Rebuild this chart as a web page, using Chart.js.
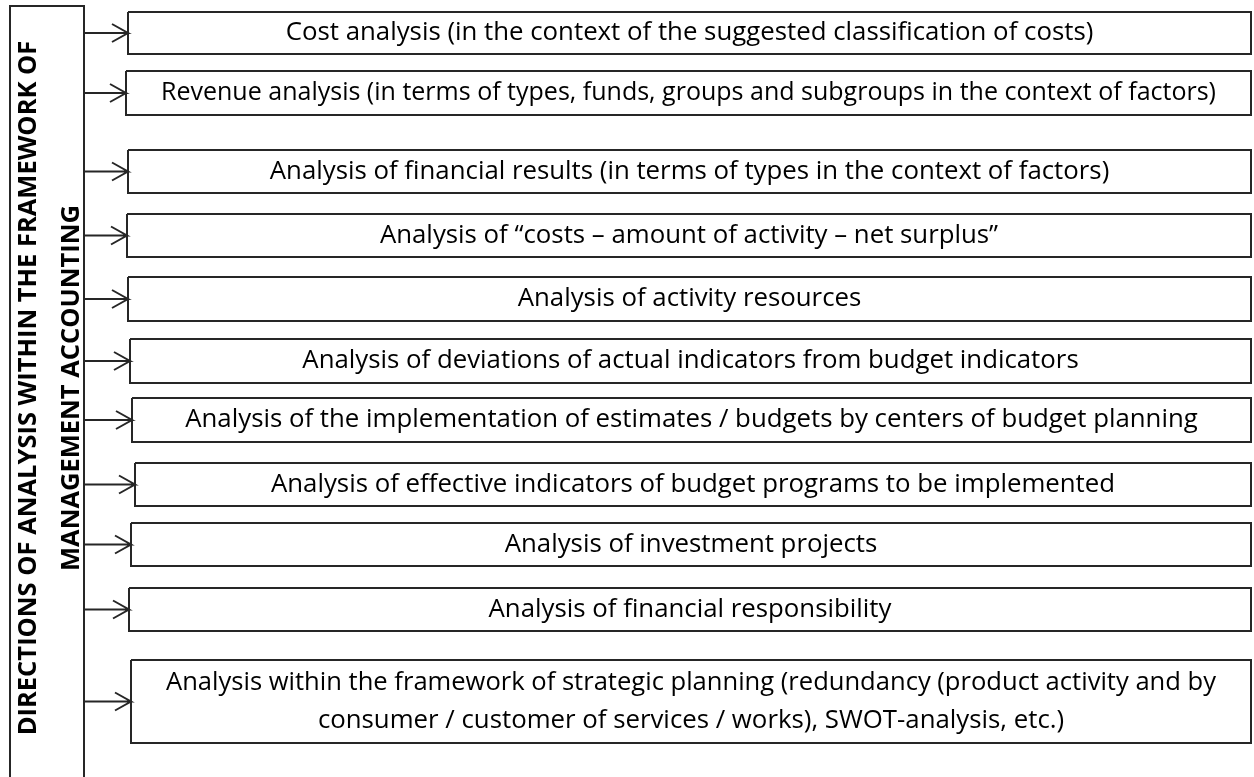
<!DOCTYPE html>
<html>
<head>
<meta charset="utf-8">
<script src="https://cdn.jsdelivr.net/npm/chart.js@4"></script>
<style>
  html, body { margin: 0; padding: 0; background: #fff; }
  canvas { display: block; }
</style>
</head>
<body>
<canvas id="diagram" width="1254" height="777"></canvas>
<script>
// diagram contents
const titleLines = ["DIRECTIONS OF ANALYSIS WITHIN THE FRAMEWORK OF", "MANAGEMENT ACCOUNTING"];

const directions = [
  ["Cost analysis (in the context of the suggested classification of costs)"],
  ["Revenue analysis (in terms of types, funds, groups and subgroups in the context of factors)"],
  ["Analysis of financial results (in terms of types in the context of factors)"],
  ["Analysis of \u201Ccosts \u2013 amount of activity \u2013 net surplus\u201D"],
  ["Analysis of activity resources"],
  ["Analysis of deviations of actual indicators from budget indicators"],
  ["Analysis of the implementation of estimates / budgets by centers of budget planning"],
  ["Analysis of effective indicators of budget programs to be implemented"],
  ["Analysis of investment projects"],
  ["Analysis of financial responsibility"],
  ["Analysis within the framework of strategic planning (redundancy (product activity and by",
   "consumer / customer of services / works), SWOT-analysis, etc.)"]
];

// box extents in diagram units
const boxTop    = [12, 71, 150, 214, 277, 339, 398, 463, 523, 588, 660];
const boxBottom = [54, 115, 193, 257, 321, 383, 442, 506, 566, 631, 743];
const boxLeft   = [128, 126, 128, 127, 128, 130, 132, 135, 131, 129, 131];
const boxRight  = 1251;

// title frame
const frameLeft = 10, frameRight = 84, frameTop = 6, frameBottom = 790;

const ink = "#262626";

const datasets = [];

// title frame (open at the bottom)
datasets.push({
  data: [
    { x: frameLeft, y: frameBottom },
    { x: frameLeft, y: frameTop },
    { x: frameRight, y: frameTop },
    { x: frameRight, y: frameBottom }
  ]
});

directions.forEach(function (d, i) {
  // box outline
  datasets.push({
    data: [
      { x: boxLeft[i], y: boxTop[i] },
      { x: boxRight, y: boxTop[i] },
      { x: boxRight, y: boxBottom[i] },
      { x: boxLeft[i], y: boxBottom[i] },
      { x: boxLeft[i], y: boxTop[i] }
    ]
  });
  // arrow from the frame to the box
  const mid = (boxTop[i] + boxBottom[i]) / 2;
  datasets.push({
    data: [
      { x: frameRight, y: mid },
      { x: boxLeft[i], y: mid },
      { x: boxLeft[i] - 16, y: mid - 9 },
      { x: boxLeft[i], y: mid },
      { x: boxLeft[i] - 16, y: mid + 9 }
    ]
  });
});

datasets.forEach(function (ds) {
  ds.showLine = true;
  ds.borderColor = ink;
  ds.borderWidth = 2;
  ds.pointRadius = 0;
  ds.borderJoinStyle = "miter";
  ds.tension = 0;
});

// writes the box texts and the rotated title
const textPlugin = {
  id: "boxTexts",
  afterDatasetsDraw(chart) {
    const ctx = chart.ctx;
    const x = chart.scales.x;
    const y = chart.scales.y;
    ctx.save();
    ctx.fillStyle = "#000";
    ctx.textAlign = "center";
    ctx.textBaseline = "middle";
    ctx.font = "25.8px 'Open Sans'";
    directions.forEach(function (lines, i) {
      const left = x.getPixelForValue(boxLeft[i]);
      const right = x.getPixelForValue(boxRight);
      const cy = y.getPixelForValue((boxTop[i] + boxBottom[i]) / 2);
      const step = 38;
      lines.forEach(function (t, k) {
        ctx.fillText(t, (left + right) / 2, cy + (k - (lines.length - 1) / 2) * step, right - left - 70);
      });
    });

    ctx.font = "bold 25.5px 'Open Sans'";
    const mid = y.getPixelForValue(388);
    [29, 72].forEach(function (lx, k) {
      ctx.save();
      ctx.translate(x.getPixelForValue(lx), mid);
      ctx.rotate(-Math.PI / 2);
      ctx.fillText(titleLines[k], 0, 0);
      ctx.restore();
    });
    ctx.restore();
  }
};

new Chart(document.getElementById("diagram"), {
  type: "scatter",
  data: { datasets: datasets },
  options: {
    responsive: false,
    animation: false,
    layout: { padding: 0 },
    scales: {
      x: { type: "linear", min: 0, max: 1254, display: false },
      y: { type: "linear", min: 0, max: 777, reverse: true, display: false }
    },
    plugins: {
      legend: { display: false },
      tooltip: { enabled: false }
    }
  },
  plugins: [textPlugin]
});
</script>
</body>
</html>
